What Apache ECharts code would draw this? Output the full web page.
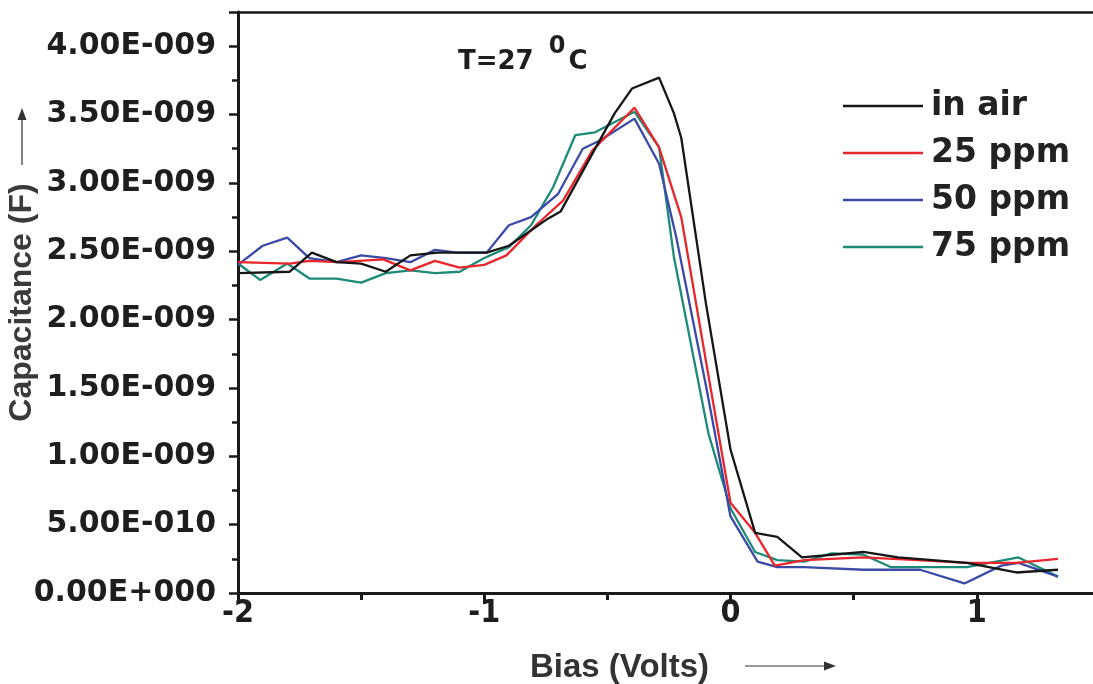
<!DOCTYPE html>
<html>
<head>
<meta charset="utf-8">
<script src="https://cdn.jsdelivr.net/npm/echarts@6/dist/echarts.min.js"></script>
<style>
html,body{margin:0;padding:0;background:#fff;}
#chart{width:1093px;height:684px;}
</style>
</head>
<body>
<div id="chart"></div>
<script>
// ---- data (bias in volts, capacitance in nF = 1E-009 F) ----
const seriesNames = ['in air', '25 ppm', '50 ppm', '75 ppm'];
const biasAir = [-2.0,-1.79,-1.70,-1.60,-1.50,-1.40,-1.30,-1.19,-0.99,-0.90,-0.74,-0.69,-0.62,-0.47,-0.40,-0.29,-0.23,-0.20,-0.10,0.0,0.10,0.19,0.29,0.54,0.68,0.96,1.16,1.33];
const capAir  = [2.34,2.35,2.49,2.42,2.41,2.35,2.47,2.49,2.49,2.54,2.74,2.79,3.02,3.51,3.69,3.77,3.51,3.33,2.12,1.05,0.44,0.41,0.26,0.30,0.26,0.22,0.15,0.17];
const bias25 = [-2.0,-1.79,-1.71,-1.59,-1.41,-1.30,-1.20,-1.10,-1.00,-0.91,-0.79,-0.68,-0.56,-0.39,-0.29,-0.20,-0.10,0.0,0.10,0.18,0.30,0.54,0.76,0.96,1.16,1.33];
const cap25  = [2.42,2.41,2.43,2.42,2.44,2.36,2.43,2.38,2.40,2.47,2.69,2.87,3.24,3.55,3.26,2.75,1.70,0.66,0.44,0.20,0.24,0.26,0.24,0.22,0.22,0.25];
const bias50 = [-2.0,-1.90,-1.80,-1.71,-1.60,-1.50,-1.40,-1.30,-1.20,-1.11,-0.99,-0.90,-0.81,-0.70,-0.60,-0.53,-0.39,-0.29,-0.22,-0.10,0.0,0.11,0.19,0.30,0.54,0.77,0.95,1.10,1.17,1.33];
const cap50  = [2.40,2.54,2.60,2.45,2.42,2.47,2.45,2.42,2.51,2.49,2.49,2.69,2.75,2.92,3.25,3.31,3.47,3.14,2.60,1.52,0.56,0.23,0.19,0.19,0.17,0.17,0.07,0.20,0.22,0.12];
const bias75 = [-2.0,-1.91,-1.80,-1.71,-1.60,-1.50,-1.40,-1.30,-1.20,-1.10,-1.00,-0.90,-0.81,-0.72,-0.63,-0.55,-0.39,-0.29,-0.23,-0.09,0.0,0.10,0.19,0.30,0.41,0.54,0.65,0.96,1.17,1.33];
const cap75  = [2.41,2.29,2.41,2.30,2.30,2.27,2.34,2.36,2.34,2.35,2.45,2.53,2.69,2.97,3.35,3.37,3.52,3.26,2.46,1.17,0.62,0.30,0.24,0.23,0.29,0.28,0.19,0.19,0.26,0.12];
const yTickLabels = ['0.00E+000','5.00E-010','1.00E-009','1.50E-009','2.00E-009','2.50E-009','3.00E-009','3.50E-009','4.00E-009'];
const xTickLabels = ['-2','-1','0','1'];
const colors = ['#161616', '#e8262c', '#3a4aa6', '#1d8a78'];

const biasSets = [biasAir, bias25, bias50, bias75];
const capSets = [capAir, cap25, cap50, cap75];

function pairs(xs, ys) { return xs.map((x, i) => [x, ys[i]]); }

const chart = echarts.init(document.getElementById('chart'), null, {renderer: 'canvas'});

const option = {
  animation: false,
  backgroundColor: '#ffffff',
  grid: {left: 238, top: 12, width: 985, height: 581, containLabel: false, outerBoundsMode: 'none'},
  title: {
    left: 453, top: 30,
    text: '{a|T=27 }{s|0}{c|C}',
    textStyle: {
      rich: {
        a: {fontFamily: 'DejaVu Sans', fontWeight: 'bold', fontSize: 26, color: '#1e1e1e', lineHeight: 40, verticalAlign: 'bottom'},
        s: {fontFamily: 'DejaVu Sans', fontWeight: 'bold', fontSize: 24, color: '#1e1e1e', lineHeight: 40, verticalAlign: 'top', padding: [0, 3, 0, 6]},
        c: {fontFamily: 'DejaVu Sans', fontWeight: 'bold', fontSize: 26, color: '#1e1e1e', lineHeight: 40, verticalAlign: 'bottom'}
      }
    }
  },
  legend: {
    orient: 'vertical',
    left: 838, top: 84,
    icon: 'rect',
    itemWidth: 80, itemHeight: 2.4, itemGap: 13,
    data: seriesNames,
    textStyle: {fontFamily: 'DejaVu Sans', fontWeight: 'bold', fontSize: 33, color: '#222', lineHeight: 34, padding: [0, 0, 0, 3]}
  },
  xAxis: [{
    type: 'value', min: -2, max: 2, interval: 1,
    axisLine: {show: true, onZero: false, lineStyle: {color: '#1a1a1a', width: 3}},
    axisTick: {show: true, inside: false, length: 11, lineStyle: {color: '#1a1a1a', width: 3}},
    minorTick: {show: true, splitNumber: 2, length: 7, lineStyle: {color: '#1a1a1a', width: 3}},
    splitLine: {show: false},
    axisLabel: {
      margin: 5,
      fontFamily: 'Liberation Sans Narrow, DejaVu Sans Condensed, Liberation Sans, sans-serif',
      fontWeight: 'bold', fontSize: 32, color: '#1e1e1e',
      formatter: v => { const i = Math.round(v + 2); return (Math.abs(v - (i - 2)) < 1e-9 && i < xTickLabels.length) ? xTickLabels[i] : ''; }
    },
    name: 'Bias (Volts)',
    nameLocation: 'middle', nameGap: 58, nameMoveOverlap: false,
    nameTextStyle: {fontFamily: 'Liberation Sans, Arial, sans-serif', fontWeight: 'bold', fontSize: 33, color: '#333', padding: [0, 222, 0, 0]}
  }, {
    type: 'value', min: -2, max: 2, position: 'top',
    axisLine: {show: true, onZero: false, lineStyle: {color: '#1a1a1a', width: 2.5}},
    axisTick: {show: false}, axisLabel: {show: false}, splitLine: {show: false}
  }],
  yAxis: [{
    type: 'value', min: 0, max: 4.25, interval: 0.5,
    axisLine: {show: true, onZero: false, lineStyle: {color: '#1a1a1a', width: 3}},
    axisTick: {show: true, inside: false, length: 9, lineStyle: {color: '#1a1a1a', width: 2.5}},
    splitLine: {show: false},
    axisLabel: {
      margin: 22,
      fontFamily: 'DejaVu Sans', fontWeight: 'bold', fontSize: 30, color: '#1e1e1e',
      formatter: v => { const i = Math.round(v / 0.5); return (Math.abs(v - i * 0.5) < 1e-9 && i < yTickLabels.length) ? yTickLabels[i] : ''; }
    },
    name: 'Capacitance (F)',
    nameLocation: 'middle', nameGap: 200, nameMoveOverlap: false,
    nameTextStyle: {fontFamily: 'Liberation Sans, Arial, sans-serif', fontWeight: 'bold', fontSize: 32, color: '#3a3a3a'}
  }, {
    type: 'value', min: 0, max: 4.25, interval: 0.25, position: 'left',
    axisLine: {show: false, onZero: false},
    axisTick: {show: true, inside: false, length: 6, lineStyle: {color: '#1a1a1a', width: 2.5}},
    axisLabel: {show: false}, splitLine: {show: false}
  }],
  series: seriesNames.map((name, k) => ({
    name: name,
    type: 'line',
    xAxisIndex: 0, yAxisIndex: 0,
    symbol: 'none',
    color: colors[k],
    lineStyle: {color: colors[k], width: 2.3},
    data: pairs(biasSets[k], capSets[k]),
    z: 10 - k
  })),
  graphic: [
    {type: 'line', shape: {x1: 745, y1: 666, x2: 826, y2: 666}, style: {stroke: '#333', lineWidth: 1.2}},
    {type: 'polygon', shape: {points: [[836, 666], [824, 661.5], [824, 670.5]]}, style: {fill: '#333'}},
    {type: 'line', shape: {x1: 22, y1: 165, x2: 22, y2: 118}, style: {stroke: '#333', lineWidth: 1.2}},
    {type: 'polygon', shape: {points: [[22, 108], [17.5, 120], [26.5, 120]]}, style: {fill: '#333'}}
  ]
};
chart.setOption(option);
</script>
</body>
</html>
